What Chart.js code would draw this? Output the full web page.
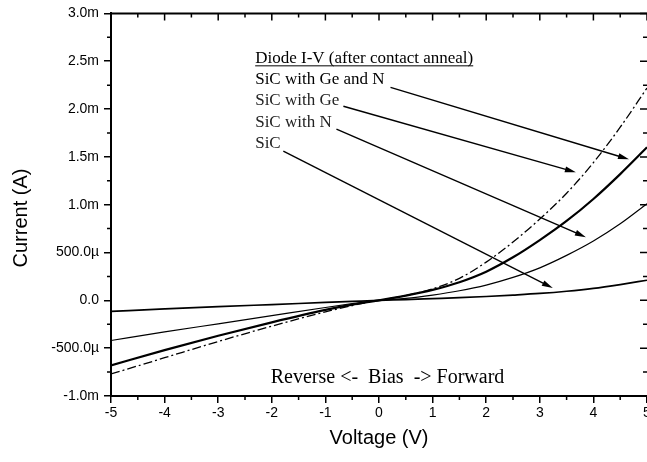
<!DOCTYPE html>
<html>
<head>
<meta charset="utf-8">
<script src="https://cdn.jsdelivr.net/npm/chart.js@4"></script>
<style>
  body { margin: 0; background: #fff; }
  #wrap { width: 647px; height: 462px; position: relative; }
</style>
</head>
<body>
<div id="wrap"><canvas id="iv"></canvas></div>
<script>
// bias voltage (V) and diode current (mA)
const voltages = [-5, -4, -3, -2, -1, -0.5, 0, 0.5, 1, 1.5, 2, 2.5, 3, 3.5, 4, 4.5, 5];
const sic      = [-0.115, -0.09, -0.066, -0.044, -0.022, -0.011, 0, 0.008, 0.018, 0.028, 0.04, 0.055, 0.072, 0.095, 0.125, 0.165, 0.21];
const sicN     = [-0.42, -0.33, -0.245, -0.16, -0.075, -0.035, 0, 0.02, 0.055, 0.10, 0.16, 0.24, 0.34, 0.47, 0.62, 0.80, 1.01];
const sicGeN   = [-0.68, -0.52, -0.37, -0.23, -0.10, -0.045, 0, 0.05, 0.11, 0.19, 0.30, 0.45, 0.63, 0.83, 1.06, 1.32, 1.60];
const sicGe    = [-0.77, -0.60, -0.43, -0.27, -0.12, -0.055, 0, 0.05, 0.12, 0.23, 0.40, 0.61, 0.85, 1.12, 1.44, 1.81, 2.22];

const yTickValues = [-1, -0.5, 0, 0.5, 1, 1.5, 2, 2.5, 3];
const yTickLabels = ['-1.0m', '-500.0\u00b5', '0.0', '500.0\u00b5', '1.0m', '1.5m', '2.0m', '2.5m', '3.0m'];

const seriesNames = ['SiC with Ge and N', 'SiC with Ge', 'SiC with N', 'SiC'];

// label text (data coords) and leader arrows
const captionTitle = 'Diode I-V (after contact anneal)';
const captionX = -2.31;
const captionY = [2.478, 2.258, 2.038, 1.809, 1.590];
const arrows = [
    [0.215, 2.227, 4.664, 1.475],
    [-0.664, 2.029, 3.673, 1.339],
    [-0.794, 1.789, 3.860, 0.661],
    [-1.785, 1.559, 3.243, 0.128],
];

const toPoints = (ys) => voltages.map((v, i) => ({ x: v, y: ys[i] }));

// extra axis decoration: minor ticks, mirrored top/right ticks, labels
const decorations = {
    id: 'decorations',
    afterDraw(chart) {
        const { ctx, chartArea: area, scales: { x, y } } = chart;
        ctx.save();
        ctx.strokeStyle = '#000';
        ctx.fillStyle = '#000';

        // top border
        ctx.lineWidth = 2;
        ctx.beginPath();
        ctx.moveTo(area.left - 1, area.top);
        ctx.lineTo(area.right, area.top);
        ctx.stroke();

        ctx.lineWidth = 1.5;
        ctx.beginPath();
        for (let v = -5; v <= 5.001; v += 0.5) {
            const px = x.getPixelForValue(v);
            const major = Math.abs(v - Math.round(v)) < 0.01;
            const len = major ? 7 : 4;
            if (!major) {
                ctx.moveTo(px, area.bottom);
                ctx.lineTo(px, area.bottom + len);
            }
            ctx.moveTo(px, area.top);
            ctx.lineTo(px, area.top + len);
        }
        for (let v = -1; v <= 3.001; v += 0.25) {
            const py = y.getPixelForValue(v);
            const major = Math.abs(v * 2 - Math.round(v * 2)) < 0.01;
            const len = major ? 7 : 4;
            if (!major) {
                ctx.moveTo(area.left, py);
                ctx.lineTo(area.left - len, py);
            }
            ctx.moveTo(area.right, py);
            ctx.lineTo(area.right - len, py);
        }
        ctx.stroke();

        // y axis title
        ctx.font = '20px "Liberation Sans", Arial, sans-serif';
        ctx.textAlign = 'center';
        ctx.textBaseline = 'middle';
        ctx.save();
        ctx.translate(21, 218);
        ctx.rotate(-Math.PI / 2);
        ctx.fillText('Current (A)', 0, 0);
        ctx.restore();

        // caption
        ctx.font = '17px "Liberation Serif", "Times New Roman", serif';
        ctx.textAlign = 'left';
        ctx.textBaseline = 'alphabetic';
        const cx = x.getPixelForValue(captionX);
        const lines = [captionTitle].concat(seriesNames);
        lines.forEach((t, i) => {
            ctx.fillStyle = i < 2 ? '#000' : '#222';
            ctx.fillText(t, cx, y.getPixelForValue(captionY[i]));
        });
        const tw = ctx.measureText(captionTitle).width;
        const uy = y.getPixelForValue(captionY[0]) + 2.5;
        ctx.lineWidth = 1;
        ctx.beginPath();
        ctx.moveTo(cx, uy);
        ctx.lineTo(cx + tw, uy);
        ctx.stroke();

        // leader arrows
        ctx.fillStyle = '#000';
        ctx.lineWidth = 1.4;
        arrows.forEach(([x0, y0, x1, y1]) => {
            const ax = x.getPixelForValue(x0), ay = y.getPixelForValue(y0);
            const bx = x.getPixelForValue(x1), by = y.getPixelForValue(y1);
            const ang = Math.atan2(by - ay, bx - ax);
            const hl = 11, hw = 3;
            ctx.beginPath();
            ctx.moveTo(ax, ay);
            ctx.lineTo(bx - Math.cos(ang) * hl * 0.8, by - Math.sin(ang) * hl * 0.8);
            ctx.stroke();
            ctx.beginPath();
            ctx.moveTo(bx, by);
            ctx.lineTo(bx - Math.cos(ang) * hl - Math.sin(ang) * hw, by - Math.sin(ang) * hl + Math.cos(ang) * hw);
            ctx.lineTo(bx - Math.cos(ang) * hl + Math.sin(ang) * hw, by - Math.sin(ang) * hl - Math.cos(ang) * hw);
            ctx.closePath();
            ctx.fill();
        });

        // bias note
        ctx.font = '20px "Liberation Serif", "Times New Roman", serif';
        ctx.textAlign = 'center';
        ctx.fillText('Reverse <-  Bias  -> Forward', x.getPixelForValue(0.159), y.getPixelForValue(-0.864));
        ctx.restore();
    }
};

new Chart(document.getElementById('iv'), {
    type: 'line',
    data: {
        datasets: [
            { label: seriesNames[0], data: toPoints(sicGeN), borderColor: '#000', borderWidth: 2.2 },
            { label: seriesNames[1], data: toPoints(sicGe), borderColor: '#000', borderWidth: 1.3, borderDash: [9, 3, 2, 3] },
            { label: seriesNames[2], data: toPoints(sicN), borderColor: '#000', borderWidth: 1.2 },
            { label: seriesNames[3], data: toPoints(sic), borderColor: '#000', borderWidth: 1.7 },
        ],
    },
    options: {
        responsive: true,
        maintainAspectRatio: false,
        animation: false,
        layout: { padding: { top: 13, right: 0, left: 0, bottom: 0 } },
        elements: {
            point: { radius: 0 },
            line: { cubicInterpolationMode: 'monotone', fill: false },
        },
        plugins: {
            legend: { display: false },
            tooltip: { enabled: false },
        },
        scales: {
            x: {
                type: 'linear',
                min: -5,
                max: 5,
                afterFit: (scale) => { scale.height = 66; scale.paddingRight = 0; scale.paddingLeft = 0; },
                ticks: {
                    stepSize: 1,
                    color: '#000',
                    padding: 2,
                    maxRotation: 0,
                    font: { family: '"Liberation Sans", Arial, sans-serif', size: 14 },
                },
                grid: { drawOnChartArea: false, tickLength: 7, color: '#000', lineWidth: 1.5 },
                border: { display: true, color: '#000', width: 2 },
                title: {
                    display: true,
                    text: 'Voltage (V)',
                    color: '#000',
                    padding: { top: 0, bottom: 12 },
                    font: { family: '"Liberation Sans", Arial, sans-serif', size: 20 },
                },
            },
            y: {
                min: -1,
                max: 3,
                afterFit: (scale) => { scale.width = 111; },
                afterBuildTicks: (scale) => { scale.ticks = yTickValues.map((v) => ({ value: v })); },
                ticks: {
                    color: '#000',
                    padding: 5,
                    font: { family: '"Liberation Sans", Arial, sans-serif', size: 14 },
                    callback: (value) => {
                        const i = yTickValues.findIndex((t) => Math.abs(t - value) < 1e-6);
                        return i >= 0 ? yTickLabels[i] : '';
                    },
                },
                grid: { drawOnChartArea: false, tickLength: 7, color: '#000', lineWidth: 1.5 },
                border: { display: true, color: '#000', width: 2 },
            },
        },
    },
    plugins: [decorations],
});
</script>
</body>
</html>
